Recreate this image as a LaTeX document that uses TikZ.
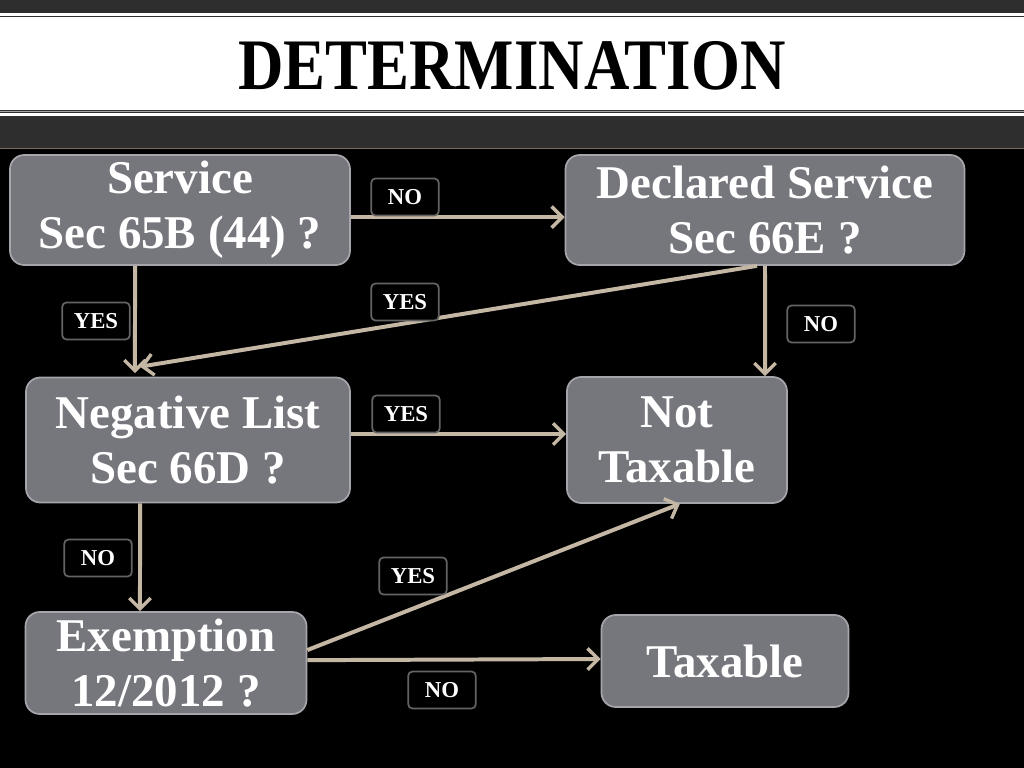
\documentclass[tikz,border=0pt]{standalone}
\usepackage{fontspec}
\setmainfont{Liberation Serif}
\usetikzlibrary{arrows.meta}
\definecolor{boxgrey}{RGB}{118,118,125}
\definecolor{boxrim}{RGB}{165,165,171}
\definecolor{arrowtan}{RGB}{196,184,165}
\definecolor{bandgrey}{RGB}{46,46,46}
\definecolor{tagrim}{RGB}{100,100,100}

\begin{document}
\begin{tikzpicture}[x=0.703pt,y=-0.703pt,
	box/.style 2 args={draw=boxrim,line width=1.2pt,fill=boxgrey,rounded corners=10pt,text=white,
		font=\bfseries\fontsize{33}{38.7}\selectfont,align=center,
		minimum width=#1*0.703pt,minimum height=#2*0.703pt,inner sep=0pt},
	tag/.style={draw=tagrim,line width=1.2pt,fill=black,rounded corners=3pt,text=white,
		font=\bfseries\fontsize{16}{18}\selectfont,minimum width=47.5pt,minimum height=26pt,inner sep=0pt},
	arr/.style={draw=arrowtan,line width=2.8pt,-{Straight Barb[length=7.5pt,width=15pt,line width=2.4pt]}}]
	\useasboundingbox (0,0) rectangle (1024,768);
	\fill[black] (0,0) rectangle (1024,768);
	\fill[bandgrey] (0,0) rectangle (1024,148);
	\fill[white] (0,13) rectangle (1024,15.5);
	\fill[white] (0,17) rectangle (1024,110);
	\fill[gray!70] (0,110.5) rectangle (1024,112);
	\fill[white] (0,113) rectangle (1024,115.5);
	\draw[arrowtan!60!black,line width=1pt] (0,148.5) -- (1024,148.5);
	\node (title) at (512,66) {\scalebox{0.867}[1]{\fontsize{51}{51}\selectfont\bfseries DETERMINATION}};

	\node[box={340}{110}] (svc) at (180,210) {Service\\Sec 65B (44) ?};
	\node[box={399}{110}] (decl) at (765,210) {Declared Service\\Sec 66E ?};
	\node[box={324}{125}] (neg) at (188,440) {Negative List\\Sec 66D ?};
	\node[box={220}{126}] (nt) at (677,440) {Not\\Taxable};
	\node[box={281}{102}] (exm) at (166,663) {Exemption\\12/2012 ?};
	\node[box={247}{92}] (tax) at (725,661) {Taxable};

	\path
	([yshift=-5pt]svc.east) edge[arr] ([yshift=-5pt]decl.west)
	([xshift=-31.6pt]svc.south) edge[arr] ([xshift=-37.3pt,yshift=2.5pt]neg.north)
	(decl.south) edge[arr] ([xshift=61.9pt]nt.north)
	([xshift=-5.6pt]decl.south) edge[arr] ([xshift=-33.7pt,yshift=7pt]neg.north)
	([yshift=4.2pt]neg.east) edge[arr] ([yshift=4.2pt]nt.west)
	([xshift=-33.7pt]neg.south) edge[arr] ([xshift=-18.3pt]exm.north)
	([yshift=9.1pt]exm.east) edge[arr] ([xshift=2pt]nt.south)
	([yshift=2pt]exm.east) edge[arr] ([yshift=1.4pt]tax.west);

	\node[tag] (noA) at (405,197) {NO};
	\node[tag] (yesA) at (96,321) {YES};
	\node[tag] (yesB) at (405,302) {YES};
	\node[tag] (noB) at (821,324) {NO};
	\node[tag] (yesC) at (406,414) {YES};
	\node[tag] (noC) at (98,558) {NO};
	\node[tag] (yesD) at (413,576) {YES};
	\node[tag] (noD) at (442,690) {NO};
\end{tikzpicture}
\end{document}
